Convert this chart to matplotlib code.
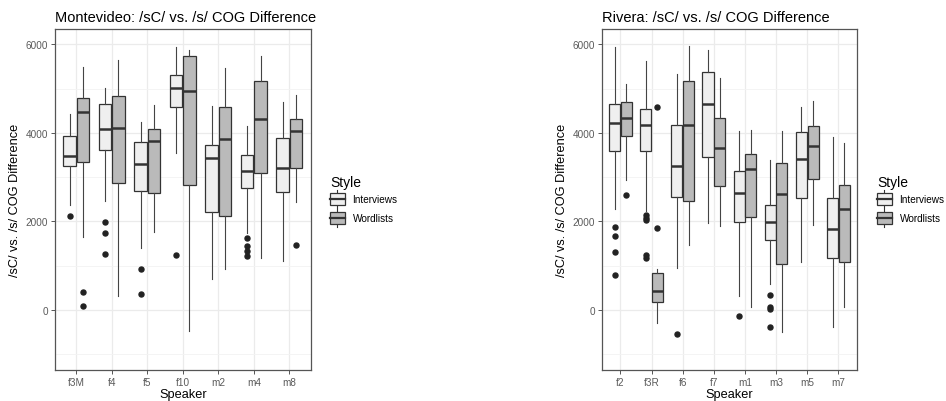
import matplotlib
matplotlib.use("Agg")
import matplotlib.pyplot as plt
from matplotlib.patches import Patch, Rectangle
from matplotlib.lines import Line2D
from matplotlib.legend_handler import HandlerBase

plt.rcParams['font.family'] = ['Liberation Sans', 'DejaVu Sans']

# ---- Montevideo ----
mv_speakers = ["f3M", "f4", "f5", "f10", "m2", "m4", "m8"]
mv_int_low = [2380, 2463, 1389, 3544, 698, 1749, 1111]
mv_int_q1 = [3251, 3611, 2688, 4580, 2215, 2763, 2665]
mv_int_med = [3476, 4092, 3289, 5008, 3431, 3138, 3206]
mv_int_q3 = [3927, 4647, 3784, 5300, 3716, 3499, 3889]
mv_int_high = [4422, 5008, 4257, 5946, 4602, 4152, 4692]
mv_int_out = [[2125], [1997, 1742, 1269], [916, 368], [1239], [],
              [1614, 1449, 1329, 1209], []]

mv_wl_low = [1652, 315, 1764, -473, 923, 1179, 2440]
mv_wl_q1 = [3341, 2868, 2643, 2823, 2132, 3093, 3213]
mv_wl_med = [4482, 4114, 3807, 4948, 3874, 4325, 4047]
mv_wl_q3 = [4783, 4835, 4084, 5736, 4580, 5173, 4325]
mv_wl_high = [5496, 5646, 4632, 5879, 5458, 5744, 4850]
mv_wl_out = [[413, 90], [], [], [], [], [], [1464]]

# ---- Rivera ----
rv_speakers = ["f2", "f3R", "f6", "f7", "m1", "m3", "m5", "m7"]
rv_int_low = [2290, 2245, 938, 1975, 315, 578, 1089, -390]
rv_int_q1 = [3596, 3581, 2560, 3454, 1982, 1569, 2530, 1164]
rv_int_med = [4227, 4182, 3243, 4647, 2650, 1997, 3409, 1839]
rv_int_q3 = [4655, 4550, 4189, 5383, 3131, 2365, 4017, 2530]
rv_int_high = [5946, 5616, 5323, 5864, 4054, 3379, 4580, 3904]
rv_int_out = [[1877, 1667, 1306, 796], [2147, 2087, 2042, 1231, 1171],
              [-541], [], [-135], [338, 75, 20, -390], [], []]

rv_wl_low = [2928, -285, 1464, 1900, 60, -503, 1915, 75]
rv_wl_q1 = [3927, 173, 2463, 2800, 2110, 1029, 2966, 1089]
rv_wl_med = [4340, 420, 4189, 3664, 3191, 2613, 3694, 2282]
rv_wl_q3 = [4692, 833, 5166, 4340, 3514, 3311, 4167, 2831]
rv_wl_high = [5098, 923, 5954, 5233, 4062, 4047, 4730, 3769]
rv_wl_out = [[2598], [4587, 1847], [], [], [], [], [], []]

styles = ["Interviews", "Wordlists"]
style_colors = {"Interviews": "#efefef", "Wordlists": "#bababa"}
EDGE = "#333333"


class BoxKeyHandler(HandlerBase):
    """ggplot-like boxplot legend key: box, whiskers and median."""
    def create_artists(self, legend, orig_handle, xdescent, ydescent,
                       width, height, fontsize, trans):
        x0, y0 = -xdescent, -ydescent
        cx = x0 + width / 2
        box = Rectangle((x0, y0 + height * 0.16), width, height * 0.68,
                        facecolor=orig_handle.get_facecolor(),
                        edgecolor=EDGE, linewidth=0.9, transform=trans)
        wt = Line2D([cx, cx], [y0 + height * 0.84, y0 + height],
                    color=EDGE, linewidth=0.8, transform=trans)
        wb = Line2D([cx, cx], [y0, y0 + height * 0.16],
                    color=EDGE, linewidth=0.8, transform=trans)
        med = Line2D([x0, x0 + width], [y0 + height / 2] * 2,
                     color=EDGE, linewidth=1.6, transform=trans)
        return [wt, wb, box, med]


def make_stats(low, q1, med, q3, high, out):
    return [dict(whislo=a, q1=b, med=c, q3=d, whishi=e, fliers=f)
            for a, b, c, d, e, f in zip(low, q1, med, q3, high, out)]


def draw_panel(ax, speakers, groups, title):
    n = len(speakers)
    offsets = [-0.1875, 0.1875]
    for (style, stats), off in zip(groups, offsets):
        pos = [i + 1 + off for i in range(n)]
        ax.bxp(stats, positions=pos, widths=0.355, patch_artist=True,
               showcaps=False, manage_ticks=False,
               boxprops=dict(facecolor=style_colors[style], edgecolor=EDGE,
                             linewidth=0.9),
               medianprops=dict(color=EDGE, linewidth=1.8),
               whiskerprops=dict(color="#444444", linewidth=0.8),
               flierprops=dict(marker='o', markersize=3.6,
                               markerfacecolor="#222222",
                               markeredgecolor="#222222"),
               zorder=3)
    ax.set_xlim(0.4, n + 0.6)
    ax.set_ylim(-1350, 6350)
    ax.set_xticks(range(1, n + 1))
    ax.set_xticklabels(speakers)
    ax.set_yticks([0, 2000, 4000, 6000])
    ax.set_yticks([-1000, 1000, 3000, 5000], minor=True)
    ax.grid(True, which='major', color="#ebebeb", linewidth=0.9, zorder=0)
    ax.grid(True, which='minor', axis='y', color="#f3f3f3", linewidth=0.6,
            zorder=0)
    ax.set_axisbelow(True)
    ax.tick_params(axis='both', which='major', labelsize=7.2, colors="#555555",
                   labelcolor="#5a5a5a", length=3, width=0.7, pad=2)
    ax.tick_params(axis='y', which='minor', length=0)
    for sp in ax.spines.values():
        sp.set_color("#555555")
        sp.set_linewidth(0.9)
    ax.set_xlabel("Speaker", fontsize=9.2, labelpad=1)
    ax.set_ylabel("/sC/ vs. /s/ COG Difference", fontsize=9.2, labelpad=3)
    ax.set_title(title, fontsize=10.5, loc='left', pad=6)


fig = plt.figure(figsize=(9.46, 4.02), dpi=100)
ax1 = fig.add_axes([0.0581, 0.078, 0.2703, 0.8475])
ax2 = fig.add_axes([0.6361, 0.078, 0.2699, 0.8475])

draw_panel(ax1, mv_speakers,
           [("Interviews", make_stats(mv_int_low, mv_int_q1, mv_int_med,
                                      mv_int_q3, mv_int_high, mv_int_out)),
            ("Wordlists", make_stats(mv_wl_low, mv_wl_q1, mv_wl_med,
                                     mv_wl_q3, mv_wl_high, mv_wl_out))],
           "Montevideo: /sC/ vs. /s/ COG Difference")
draw_panel(ax2, rv_speakers,
           [("Interviews", make_stats(rv_int_low, rv_int_q1, rv_int_med,
                                      rv_int_q3, rv_int_high, rv_int_out)),
            ("Wordlists", make_stats(rv_wl_low, rv_wl_q1, rv_wl_med,
                                     rv_wl_q3, rv_wl_high, rv_wl_out))],
           "Rivera: /sC/ vs. /s/ COG Difference")

handles = [Patch(facecolor=style_colors[s], edgecolor=EDGE, label=s)
           for s in styles]
for x in (326 / 946, 873 / 946):
    leg = fig.legend(handles=handles, title="Style", loc='upper left',
                     bbox_to_anchor=(x, 1 - 172 / 402), frameon=False,
                     fontsize=7.2, title_fontsize=10, handlelength=1.45,
                     handleheight=2.4, handletextpad=0.8, labelspacing=0.1,
                     borderaxespad=0,
                     handler_map={Patch: BoxKeyHandler()})
    leg._legend_box.align = "left"

fig.savefig("out.png", dpi=100)
